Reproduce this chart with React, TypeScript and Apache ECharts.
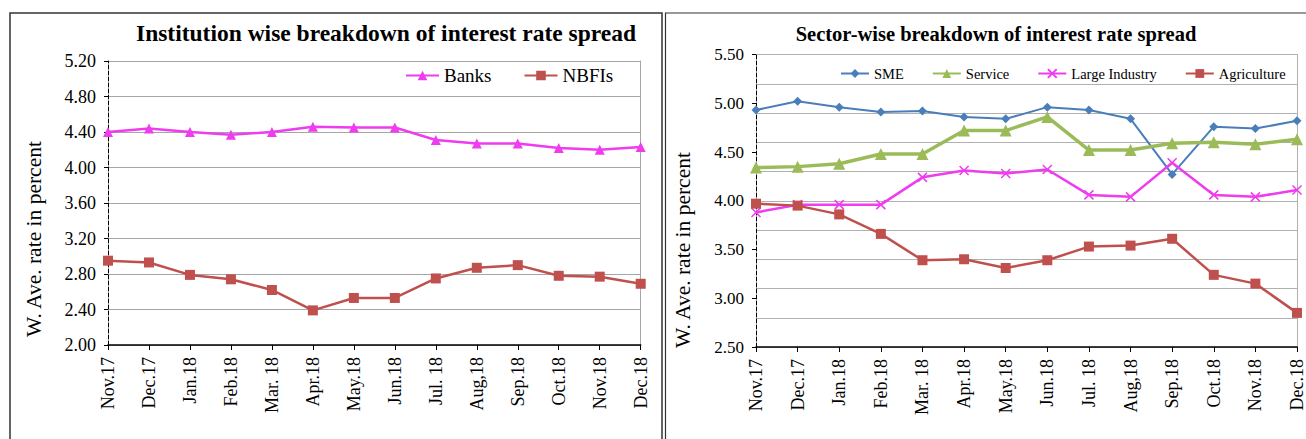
import React, { useEffect, useRef } from "react";
import * as echarts from "echarts";

const FONT = "Liberation Serif";

const categories = ["Nov.17", "Dec.17", "Jan.18", "Feb.18", "Mar. 18", "Apr.18", "May.18", "Jun.18", "Jul. 18", "Aug,18", "Sep.18", "Oct.18", "Nov.18", "Dec.18"];

// Institution wise
const banks = [4.40, 4.44, 4.40, 4.37, 4.40, 4.46, 4.45, 4.45, 4.31, 4.27, 4.27, 4.22, 4.20, 4.23];
const nbfis = [2.95, 2.93, 2.79, 2.74, 2.62, 2.39, 2.53, 2.53, 2.75, 2.87, 2.90, 2.78, 2.77, 2.69];

// Sector wise
const sme = [4.93, 5.02, 4.96, 4.91, 4.92, 4.86, 4.84, 4.96, 4.93, 4.84, 4.27, 4.76, 4.74, 4.82];
const service = [4.34, 4.35, 4.38, 4.48, 4.48, 4.72, 4.72, 4.86, 4.52, 4.52, 4.59, 4.60, 4.58, 4.63];
const largeIndustry = [3.88, 3.96, 3.96, 3.96, 4.24, 4.31, 4.28, 4.32, 4.06, 4.04, 4.39, 4.06, 4.04, 4.11];
const agriculture = [3.97, 3.95, 3.86, 3.66, 3.39, 3.40, 3.31, 3.39, 3.53, 3.54, 3.61, 3.24, 3.15, 2.85];

const leftTitle = "Institution wise breakdown of interest rate spread";
const rightTitle = "Sector-wise breakdown of interest rate spread";
const yName = "W. Ave. rate in percent";

const MAGENTA = "#EE3CEE";
const RED = "#C0504D";
const BLUE = "#4A7EBB";
const GREEN = "#9BBB59";

export default function App() {
  const ref = useRef<HTMLDivElement>(null);
  useEffect(() => {
    if (!ref.current) return;
    const chart = echarts.init(ref.current, null, { renderer: "svg" });

    const xAxisBase = (gridIndex: number) => ({
      gridIndex,
      type: "category",
      data: categories,
      boundaryGap: false,
      axisLine: { onZero: false, lineStyle: { color: "#000", width: 1.5 } },
      axisTick: { show: true, length: 5, interval: 0, lineStyle: { color: "#000", width: 1 } },
      axisLabel: { rotate: 90, interval: 0, margin: 12, fontSize: 18, color: "#000", fontFamily: FONT },
      splitLine: { show: false },
    });

    const option: any = {
      animation: false,
      textStyle: { fontFamily: FONT, color: "#000" },
      grid: [
        { left: 108, top: 61, width: 532.7, height: 284 },
        { left: 756, top: 54.5, width: 542, height: 292.5 },
      ],
      xAxis: [xAxisBase(0), xAxisBase(1)],
      yAxis: [
        {
          gridIndex: 0,
          type: "value",
          min: 2.0,
          max: 5.2,
          interval: 0.4,
          axisLine: { show: true, onZero: false, lineStyle: { color: "#000", type: "dashed", width: 1 } },
          axisTick: { show: true, length: 4, lineStyle: { color: "#000" } },
          axisLabel: { formatter: (v: number) => v.toFixed(2), fontSize: 18, margin: 12, color: "#000", fontFamily: FONT },
          splitLine: { show: true, lineStyle: { color: "#A6A6A6", width: 1 } },
        },
        {
          gridIndex: 0,
          type: "value",
          position: "right",
          min: 2.0,
          max: 5.2,
          interval: 0.4,
          axisLine: { show: true, onZero: false, lineStyle: { color: "#A6A6A6", width: 1 } },
          axisTick: { show: false },
          axisLabel: { show: false },
          splitLine: { show: false },
        },
        {
          gridIndex: 1,
          type: "value",
          min: 2.5,
          max: 5.5,
          interval: 0.5,
          axisLine: { show: true, onZero: false, lineStyle: { color: "#000", type: "dashed", width: 1 } },
          axisTick: { show: true, length: 4, lineStyle: { color: "#000" } },
          axisLabel: { formatter: (v: number) => v.toFixed(2), fontSize: 17, margin: 12, color: "#000", fontFamily: FONT },
          splitLine: { show: false },
        },
        {
          gridIndex: 1,
          type: "value",
          position: "right",
          min: 0,
          max: 10,
          interval: 1,
          axisLine: { show: true, onZero: false, lineStyle: { color: "#B0B0B0", width: 1 } },
          axisTick: { show: false },
          axisLabel: { show: false },
          splitLine: { show: true, lineStyle: { color: "#B0B0B0", width: 1 } },
        },
      ],
      legend: [
        {
          data: ["Banks", "NBFIs"],
          left: 405,
          top: 66,
          padding: 0,
          width: 400,
          itemWidth: 33,
          itemHeight: 12,
          itemGap: 32,
          textStyle: { fontSize: 19, fontFamily: FONT, color: "#000" },
        },
        {
          data: ["SME", "Service", "Large Industry", "Agriculture"],
          left: 840,
          top: 66,
          padding: 0,
          width: 600,
          itemWidth: 28,
          itemHeight: 11,
          itemGap: 28,
          textStyle: { fontSize: 14.5, fontFamily: FONT, color: "#000" },
        },
      ],
      graphic: [
        { type: "rect", silent: true, shape: { x: 10, y: 13, width: 652, height: 440 }, style: { fill: "none", stroke: "#333", lineWidth: 1.5 } },
        { type: "rect", silent: true, shape: { x: 665.5, y: 13, width: 660, height: 440 }, style: { fill: "none", stroke: "#333", lineWidth: 1.2 } },
        {
          type: "text", x: 386, y: 33,
          style: { text: leftTitle, font: "bold 23.5px Liberation Serif", fill: "#000", textAlign: "center", textVerticalAlign: "middle" },
        },
        {
          type: "text", x: 996, y: 34,
          style: { text: rightTitle, font: "bold 20.5px Liberation Serif", fill: "#000", textAlign: "center", textVerticalAlign: "middle" },
        },
        {
          type: "text", x: 34, y: 239, rotation: Math.PI / 2,
          style: { text: yName, font: "normal 21.5px Liberation Serif", fill: "#000", textAlign: "center", textVerticalAlign: "middle" },
        },
        {
          type: "text", x: 683, y: 250, rotation: Math.PI / 2,
          style: { text: yName, font: "normal 21.5px Liberation Serif", fill: "#000", textAlign: "center", textVerticalAlign: "middle" },
        },
      ],
      series: [
        {
          name: "Banks", type: "line", xAxisIndex: 0, yAxisIndex: 0, data: banks,
          symbol: "triangle", symbolSize: 10,
          lineStyle: { color: MAGENTA, width: 2.5 },
          itemStyle: { color: MAGENTA, borderWidth: 0 },
        },
        {
          name: "NBFIs", type: "line", xAxisIndex: 0, yAxisIndex: 0, data: nbfis,
          symbol: "rect", symbolSize: 10,
          lineStyle: { color: RED, width: 2.5 },
          itemStyle: { color: RED, borderWidth: 0 },
        },
        {
          name: "SME", type: "line", xAxisIndex: 1, yAxisIndex: 2, data: sme,
          symbol: "diamond", symbolSize: 9,
          lineStyle: { color: BLUE, width: 2 },
          itemStyle: { color: BLUE, borderWidth: 0 },
        },
        {
          name: "Service", type: "line", xAxisIndex: 1, yAxisIndex: 2, data: service,
          symbol: "triangle", symbolSize: 12,
          lineStyle: { color: GREEN, width: 3.5 },
          itemStyle: { color: GREEN, borderWidth: 0 },
        },
        {
          name: "Large Industry", type: "line", xAxisIndex: 1, yAxisIndex: 2, data: largeIndustry,
          symbol: "path://M0 0L10 10M10 0L0 10", symbolSize: 9,
          lineStyle: { color: MAGENTA, width: 2.5 },
          itemStyle: { color: MAGENTA, borderColor: MAGENTA, borderWidth: 1.5 },
        },
        {
          name: "Agriculture", type: "line", xAxisIndex: 1, yAxisIndex: 2, data: agriculture,
          symbol: "rect", symbolSize: 10,
          lineStyle: { color: RED, width: 2.5 },
          itemStyle: { color: RED, borderWidth: 0 },
        },
      ],
    };
    chart.setOption(option);
    return () => chart.dispose();
  }, []);

  return (
    <div
      ref={ref}
      style={{ position: "absolute", left: 0, top: 0, width: 1306, height: 439, background: "#fff" }}
    />
  );
}
